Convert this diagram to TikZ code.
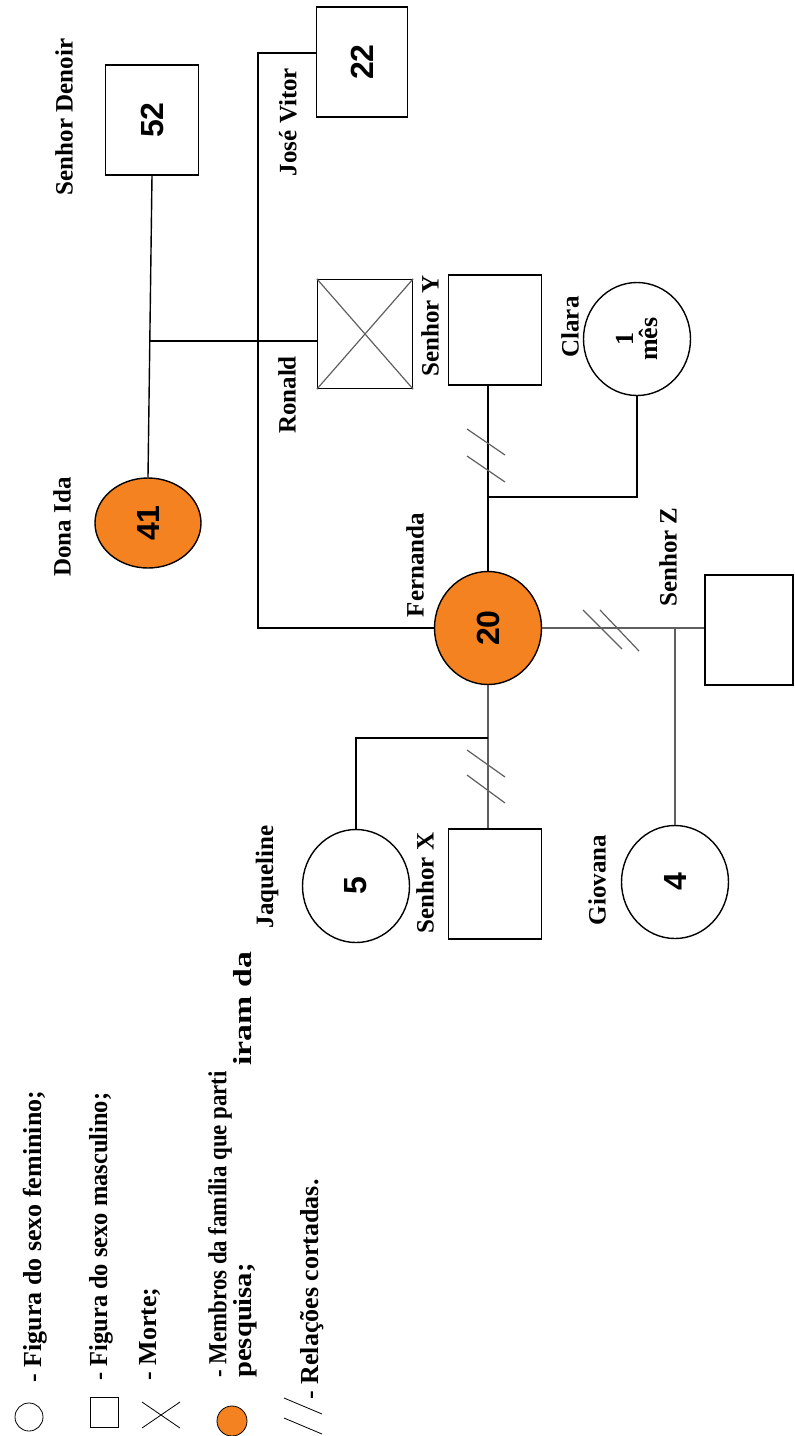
\documentclass[tikz,border=0pt]{standalone}
\usepackage{fontspec}
\setmainfont{Liberation Serif}
\newfontfamily\agefont{Liberation Sans}
\usepackage{graphicx}
\usetikzlibrary{shapes.geometric, calc}
\definecolor{membercolor}{RGB}{245, 130, 32}
\definecolor{cutcolor}{RGB}{95, 95, 95}

\begin{document}
\begin{tikzpicture}[x=0.5pt, y=-0.5pt,
    male/.style={draw, rectangle, minimum width=46.5pt, minimum height=55pt, inner sep=0pt, line width=0.7pt, font=\agefont\bfseries\fontsize{16}{18}\selectfont},
    female/.style={draw, ellipse, minimum width=53.5pt, minimum height=56.5pt, inner sep=0pt, line width=0.7pt, font=\agefont\bfseries\fontsize{16}{18}\selectfont},
    member/.style={fill=membercolor},
    personlbl/.style={rotate=90, inner sep=0pt, font=\bfseries\fontsize{12.5}{14}\selectfont},
    keytext/.style={rotate=90, anchor=west, inner sep=0pt, font=\bfseries\fontsize{13}{13}\selectfont},
    link/.style={line width=0.7pt},
    cutlink/.style={line width=0.7pt, cutcolor},
    cut/.style={line width=0.6pt, cutcolor}]
    \useasboundingbox (0,0) rectangle (795,1436);

    % Grandparents
    \node[male] (denoir) at (152,120) {\rotatebox{90}{52}};
    \node[personlbl] (lbldenoir) at (64,117) {Senhor Denoir};
    \node[female, member, minimum width=53pt, minimum height=45pt] (ida) at (148,523) {\rotatebox{90}{41}};
    \node[personlbl] (lblida) at (62,527) {Dona Ida};

    % Children
    \node[male, minimum width=45.5pt] (jose) at (362,62) {\rotatebox{90}{22}};
    \node[personlbl] (lbljose) at (288,122) {José Vitor};
    \node[male, minimum width=47.5pt, minimum height=54.5pt] (ronald) at (365,334) {};
    \node[personlbl] (lblronald) at (287,395) {Ronald};
    \node[female, member] (fernanda) at (488,628) {\rotatebox{90}{20}};
    \node[personlbl] (lblfernanda) at (415,565) {Fernanda};

    % Partners of Fernanda
    \node[male] (senY) at (495,330) {};
    \node[personlbl] (lblsenY) at (430,326) {Senhor Y};
    \node[male, minimum width=44pt] (senZ) at (749,630) {};
    \node[personlbl] (lblsenZ) at (668,557) {Senhor Z};
    \node[male] (senX) at (495,884) {};
    \node[personlbl] (lblsenX) at (425,883) {Senhor X};

    % Grandchildren
    \node[female] (clara) at (637,339) {\rotatebox{90}{\normalfont\bfseries\fontsize{13}{14}\selectfont\shortstack{1\\mês}}};
    \node[personlbl] (lblclara) at (570,327) {Clara};
    \node[female] (giovana) at (675,882) {\rotatebox{90}{4}};
    \node[personlbl] (lblgiovana) at (597,880) {Giovana};
    \node[female] (jaq) at (356,886) {\rotatebox{90}{5}};
    \node[personlbl] (lbljaq) at (267,877) {Jaqueline};

    % Lines
    \draw[cut] (ronald.north west) -- (ronald.south east) (ronald.north east) -- (ronald.south west);
    \draw[link] (denoir.south) -- (ida.north);
    \coordinate (parents) at (150,341);
    \draw[link] (parents) -- (parents -| ronald.west);
    \coordinate (sibtop) at (258,53);
    \draw[link] (sibtop -| jose.west) -- (sibtop) -- (sibtop |- fernanda.west) -- (fernanda.west);

    \draw[link] (fernanda.north |- senY.south) -- (fernanda.north);
    \coordinate (childY) at (488,497);
    \draw[link] (childY) -| (clara.south);
    \draw[cut] (467,429) -- (505,455) (467,456) -- (505,482);

    \draw[cutlink] (fernanda.east) -- (fernanda.east -| senZ.west);
    \draw[cutlink] (giovana.north |- fernanda.east) -- (giovana.north);
    \draw[cut] (583,610) -- (622,649) (600,610) -- (639,651);

    \draw[cutlink] (fernanda.south) -- (fernanda.south |- senX.north);
    \coordinate (childX) at (488,738);
    \draw[link] (childX) -| (jaq.north);
    \draw[cut] (467,750) -- (505,777) (467,775) -- (505,803);

    % Legend
    \node[draw, circle, minimum size=14pt, inner sep=0pt, thin] (keyfem) at (29,1417) {};
    \node[keytext] (txtfem) at (35,1383) {- Figura do sexo feminino;};
    \node[draw, minimum width=14pt, minimum height=15pt, inner sep=0pt, thin] (keymale) at (104,1412) {};
    \node[keytext] (txtmale) at (101,1381) {\scalebox{0.94}[1]{- Figura do sexo masculino;}};
    \coordinate (keydeath) at (161,1415);
    \draw[thin] ($(keydeath)+(-19,-13)$) -- ($(keydeath)+(19,13)$) ($(keydeath)+(-19,13)$) -- ($(keydeath)+(19,-13)$);
    \node[keytext] (txtdeath) at (150,1381) {- Morte;};
    \node[draw, circle, fill=membercolor, minimum size=15pt, inner sep=0pt, thin] (keymember) at (232,1421) {};
    \node[keytext] (txtmember) at (220,1378) {\scalebox{0.88}[1]{- Membros da família que parti}};
    \node[keytext] (txtmember2) at (243,1066) {\scalebox{1.3}[1]{iram da}};
    \node[keytext] (txtmember3) at (245,1378) {\scalebox{1.1}[1]{pesquisa;}};
    \coordinate (keycut) at (303,1416);
    \draw[thin] ($(keycut)+(-19,-18)$) -- ($(keycut)+(19,-2)$) ($(keycut)+(-19,2)$) -- ($(keycut)+(19,18)$);
    \node[keytext] (txtcut) at (312,1400) {- Relações cortadas.};
\end{tikzpicture}
\end{document}
